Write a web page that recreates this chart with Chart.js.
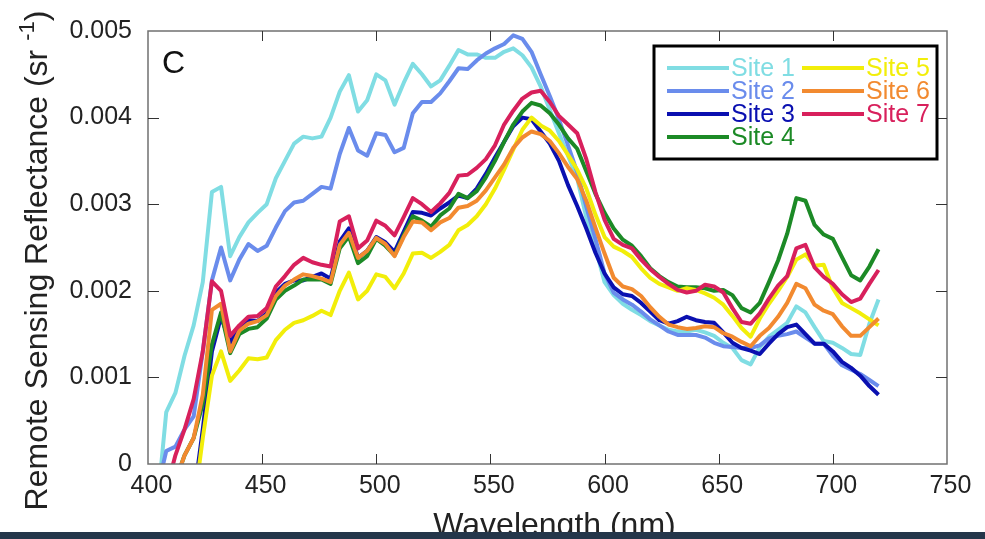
<!DOCTYPE html>
<html>
<head>
<meta charset="utf-8">
<script src="https://cdn.jsdelivr.net/npm/chart.js@4.4.0/dist/chart.umd.min.js"></script>
<style>
  html, body { margin: 0; padding: 0; background: #24364a; overflow: hidden; }
  #wrap { position: relative; width: 985px; height: 532px; background: #fff; }
</style>
</head>
<body>
<div id="wrap"><canvas id="rrs"></canvas></div>
<script>
// wavelength grid (nm) shared by every site
const wavelengths = [
  404, 408, 412, 416, 420, 424, 428, 432, 436, 440, 444, 448, 452, 456, 460, 464,
  468, 472, 476, 480, 484, 488, 492, 496, 500, 504, 508, 512, 516, 520, 524, 528,
  532, 536, 540, 544, 548, 552, 556, 560, 564, 568, 572, 576, 580, 584, 588, 592,
  596, 600, 604, 608, 612, 616, 620, 624, 628, 632, 636, 640, 644, 648, 652, 656,
  660, 664, 668, 672, 676, 680, 684, 688, 692, 696, 700, 704, 708, 712, 716, 720
];

const site1 = [
  -0.0005, 0.0006, 0.00082, 0.00125, 0.0016, 0.0021, 0.00314, 0.0032, 0.0024, 0.00262, 0.00279, 0.0029, 0.003, 0.0033, 0.0035, 0.0037,
  0.00378, 0.00376, 0.00378, 0.004, 0.0043, 0.00449, 0.00407, 0.0042, 0.0045, 0.00443, 0.00415, 0.0044, 0.00462, 0.0045, 0.00436, 0.00443,
  0.0046, 0.00478, 0.00473, 0.00473, 0.00469, 0.00469, 0.00476, 0.0048, 0.00472, 0.00458, 0.00436, 0.00409, 0.00382, 0.00356, 0.0033, 0.00285,
  0.0025, 0.0021, 0.00195, 0.00185, 0.00178, 0.00172, 0.00165, 0.0016, 0.00155, 0.00153, 0.00153, 0.00155, 0.00152, 0.00148, 0.0014, 0.00134,
  0.0012, 0.00115, 0.00135, 0.00147, 0.00155, 0.00163, 0.00182, 0.00175, 0.00158, 0.00142, 0.0014, 0.00134, 0.00127, 0.00126, 0.00162, 0.0019
];
const site2 = [
  -0.0003, 0.00015, 0.0002, 0.0004, 0.00055, 0.0013, 0.00212, 0.0025, 0.00212, 0.00236, 0.00254, 0.00246, 0.00252, 0.00273, 0.00292, 0.00302,
  0.00304, 0.00312, 0.0032, 0.00318, 0.00358, 0.00388, 0.00362, 0.00356, 0.00382, 0.0038, 0.0036, 0.00365, 0.00405, 0.00418, 0.00418, 0.00428,
  0.00442, 0.00457, 0.00456, 0.00466, 0.00474, 0.0048, 0.00485, 0.00495, 0.00491, 0.00476, 0.0045, 0.00425, 0.00398, 0.00368, 0.00337, 0.00297,
  0.0026, 0.0022, 0.00198, 0.0019, 0.00184, 0.00176, 0.00167, 0.0016, 0.00153, 0.00149, 0.00149, 0.00149, 0.00146, 0.0014, 0.00136, 0.00135,
  0.00134, 0.00134, 0.00137, 0.00145, 0.00148, 0.0015, 0.00153, 0.00146, 0.00139, 0.00139, 0.00125, 0.00114, 0.00109, 0.00104, 0.00097, 0.0009
];
const site3 = [
  null, null, null, null, -0.0004, 0.0004, 0.0013, 0.0017, 0.0014, 0.00158, 0.00166, 0.00165, 0.00174, 0.00198, 0.00208, 0.00212,
  0.00212, 0.00216, 0.0022, 0.00214, 0.00257, 0.00272, 0.00238, 0.00246, 0.00262, 0.00256, 0.00245, 0.00268, 0.00291, 0.0029, 0.00287, 0.00295,
  0.00302, 0.0031, 0.00307, 0.00318, 0.00335, 0.00354, 0.00372, 0.0039, 0.004, 0.00398, 0.00384, 0.0037, 0.0035, 0.00322, 0.00298, 0.00272,
  0.00244, 0.0022, 0.00204, 0.00196, 0.00194, 0.00186, 0.00176, 0.00166, 0.00162, 0.00165, 0.0017, 0.00166, 0.00164, 0.00163, 0.00152, 0.0014,
  0.00134, 0.00131, 0.00127, 0.00139, 0.0015, 0.00158, 0.00161, 0.0015, 0.00139, 0.00139, 0.0013, 0.00118, 0.00111, 0.00102, 0.0009, 0.0008
];
const site4 = [
  null, null, -0.0002, 0.0001, 0.0003, 0.0007, 0.00138, 0.00175, 0.00128, 0.0015, 0.00156, 0.00158, 0.00168, 0.0019, 0.002, 0.00206,
  0.00213, 0.00213, 0.00213, 0.00208, 0.00249, 0.00263, 0.00232, 0.0024, 0.0026, 0.00252, 0.00241, 0.00264, 0.00286, 0.00281, 0.00274, 0.00287,
  0.00295, 0.00312, 0.00307, 0.00315, 0.00331, 0.0035, 0.00372, 0.00392, 0.00407, 0.00417, 0.00414, 0.00405, 0.00392, 0.00376, 0.00364, 0.00338,
  0.00312, 0.0029, 0.00272, 0.00259, 0.00252, 0.0024, 0.00226, 0.00217, 0.0021, 0.00205, 0.00204, 0.00204, 0.00203, 0.002, 0.00201, 0.00195,
  0.0018, 0.00175, 0.00186, 0.0021, 0.00235, 0.00266, 0.00307, 0.00304, 0.00276, 0.00265, 0.0026, 0.00239, 0.00218, 0.00212, 0.00228, 0.00248
];
const site5 = [
  null, null, null, null, -0.0005, 0.0003, 0.00102, 0.0013, 0.00096, 0.00108, 0.00122, 0.00121, 0.00123, 0.00143, 0.00155, 0.00163,
  0.00166, 0.00171, 0.00177, 0.00172, 0.002, 0.00221, 0.0019, 0.002, 0.00219, 0.00216, 0.00203, 0.0022, 0.00243, 0.00244, 0.00238, 0.00245,
  0.00253, 0.0027, 0.00276, 0.00286, 0.003, 0.00318, 0.0034, 0.00363, 0.00386, 0.004, 0.00391, 0.00385, 0.00373, 0.00357, 0.0034, 0.00318,
  0.00288, 0.00262, 0.00251, 0.00246, 0.00239, 0.00226, 0.00215, 0.00208, 0.00204, 0.002, 0.00203, 0.00201, 0.00197, 0.00192, 0.00184, 0.00171,
  0.00157, 0.00147, 0.00168, 0.00185, 0.002, 0.00216, 0.00236, 0.00242, 0.00229, 0.0023, 0.00203, 0.00186, 0.0018, 0.00174, 0.00167, 0.0016
];
const site6 = [
  null, null, -0.0002, 0.0001, 0.0003, 0.0008, 0.00178, 0.00185, 0.0013, 0.00154, 0.00162, 0.00165, 0.00172, 0.00194, 0.00206, 0.00213,
  0.00219, 0.00217, 0.00214, 0.0021, 0.00253, 0.00267, 0.00238, 0.00246, 0.00261, 0.00254, 0.0024, 0.00262, 0.0028, 0.00279, 0.0027, 0.00279,
  0.00284, 0.00296, 0.00298, 0.00304, 0.00316, 0.00331, 0.00346, 0.00365, 0.00377, 0.00384, 0.00381, 0.00373, 0.00359, 0.00343, 0.00329, 0.00304,
  0.00273, 0.00243, 0.00215, 0.00205, 0.00202, 0.00194, 0.00181, 0.0017, 0.00161, 0.00158, 0.00156, 0.00157, 0.00159, 0.00158, 0.00151, 0.00147,
  0.00141, 0.00136, 0.00148, 0.00157, 0.0017, 0.00186, 0.00208, 0.00203, 0.00184, 0.00177, 0.00173, 0.00159, 0.00148, 0.00148, 0.00158, 0.00168
];
const site7 = [
  null, -0.0003, 0.0001, 0.0004, 0.00075, 0.0013, 0.00211, 0.002, 0.00148, 0.0016, 0.0017, 0.00171, 0.0018, 0.00205, 0.00217, 0.0023,
  0.00238, 0.00233, 0.0023, 0.00228, 0.0028, 0.00286, 0.00249, 0.00258, 0.00281, 0.00275, 0.00264, 0.00285, 0.00307, 0.003, 0.00291, 0.00301,
  0.00313, 0.00333, 0.00334, 0.00342, 0.00352, 0.00368, 0.00392, 0.00408, 0.00422, 0.00429, 0.00431, 0.00418, 0.00402, 0.00392, 0.00382, 0.00352,
  0.00314, 0.00282, 0.0026, 0.00253, 0.00249, 0.00236, 0.00225, 0.00216, 0.00208, 0.00201, 0.00198, 0.002, 0.00207, 0.00205, 0.00198, 0.0018,
  0.00164, 0.00162, 0.00174, 0.00191, 0.00206, 0.00217, 0.00249, 0.00253, 0.00227, 0.00216, 0.00208, 0.00196, 0.00187, 0.00191, 0.00208, 0.00224
];

const siteNames = ["Site 1", "Site 2", "Site 3", "Site 4", "Site 5", "Site 6", "Site 7"];
const siteColors = ["#80dde3", "#6a8cec", "#0a10b0", "#1c8a26", "#f2ee0a", "#f28a30", "#d8205c"];
const siteValues = [site1, site2, site3, site4, site5, site6, site7];

const xTickValues = [400, 450, 500, 550, 600, 650, 700, 750];
const yTickValues = [0, 0.001, 0.002, 0.003, 0.004, 0.005];

const FONT = "'Liberation Sans', Arial, sans-serif";

// box round the plot with matlab-style inward ticks
const boxTicks = {
  id: "boxTicks",
  afterDatasetsDraw(chart) {
    const { ctx, chartArea: a, scales: { x, y } } = chart;
    ctx.save();
    ctx.strokeStyle = "#707070";
    ctx.lineWidth = 1.5;
    ctx.strokeRect(a.left, a.top, a.width, a.height);
    ctx.strokeStyle = "#333";
    ctx.lineWidth = 1;
    ctx.beginPath();
    xTickValues.slice(1, -1).forEach((v) => {
      const px = Math.round(x.getPixelForValue(v)) + 0.5;
      ctx.moveTo(px, a.bottom); ctx.lineTo(px, a.bottom - 10);
      ctx.moveTo(px, a.top); ctx.lineTo(px, a.top + 10);
    });
    yTickValues.slice(1, -1).forEach((v) => {
      const py = Math.round(y.getPixelForValue(v)) + 0.5;
      ctx.moveTo(a.left, py); ctx.lineTo(a.left + 11, py);
      ctx.moveTo(a.right, py); ctx.lineTo(a.right - 11, py);
    });
    ctx.stroke();
    ctx.restore();
  },
};

// panel letter, axis titles and the boxed two-column legend
const annotations = {
  id: "annotations",
  afterDraw(chart) {
    const { ctx, chartArea: a } = chart;
    ctx.save();
    ctx.fillStyle = "#111";
    ctx.font = "32px " + FONT;
    ctx.textAlign = "left";
    ctx.textBaseline = "alphabetic";
    ctx.fillText("C", a.left + 14, a.top + 42);

    ctx.fillStyle = "#222";
    ctx.textAlign = "center";
    ctx.textBaseline = "middle";
    ctx.fillText("Wavelength (nm)", (a.left + a.right) / 2 + 7, a.bottom + 62);

    // y title with raised -1
    const main = "Remote Sensing Reflectance (sr ";
    const sup = "-1";
    const close = ")";
    ctx.font = "32px " + FONT;
    const wMain = ctx.measureText(main).width;
    const wClose = ctx.measureText(close).width;
    ctx.font = "22px " + FONT;
    const wSup = ctx.measureText(sup).width;
    const total = wMain + wSup + wClose;
    ctx.translate(38, (a.top + a.bottom) / 2 + 13);
    ctx.rotate(-Math.PI / 2);
    ctx.textAlign = "left";
    let cx = -total / 2;
    ctx.font = "32px " + FONT;
    ctx.fillText(main, cx, 0);
    cx += wMain;
    ctx.font = "22px " + FONT;
    ctx.fillText(sup, cx, -10);
    cx += wSup;
    ctx.font = "32px " + FONT;
    ctx.fillText(close, cx, 0);
    ctx.setTransform(1, 0, 0, 1, 0, 0);

    // legend
    const bx = a.left + 506, by = a.top + 15, bw = 283, bh = 113;
    ctx.fillStyle = "#fff";
    ctx.fillRect(bx, by, bw, bh);
    ctx.strokeStyle = "#000";
    ctx.lineWidth = 3;
    ctx.strokeRect(bx, by, bw, bh);
    ctx.font = "25px " + FONT;
    ctx.textBaseline = "middle";
    chart.data.datasets.forEach((ds, i) => {
      const col = i < 4 ? 0 : 1;
      const row = i < 4 ? i : i - 4;
      const lx = bx + 13 + col * 135;
      const ly = by + 22 + row * 23;
      ctx.strokeStyle = ds.borderColor;
      ctx.lineWidth = 4;
      ctx.beginPath();
      ctx.moveTo(lx, ly);
      ctx.lineTo(lx + 62, ly);
      ctx.stroke();
      ctx.fillStyle = ds.borderColor;
      ctx.fillText(ds.label, lx + 64, ly + 1);
    });
    ctx.restore();
  },
};

new Chart(document.getElementById("rrs"), {
  type: "line",
  data: {
    datasets: siteNames.map((name, i) => ({
      label: name,
      data: wavelengths.map((w, j) => ({ x: w, y: siteValues[i][j] })),
      borderColor: siteColors[i],
      backgroundColor: siteColors[i],
      borderWidth: 4,
      pointRadius: 0,
      tension: 0,
      fill: false,
      clip: 0,
      borderJoinStyle: "round",
      order: siteNames.length - i,
    })),
  },
  options: {
    responsive: true,
    maintainAspectRatio: false,
    animation: false,
    events: [],
    layout: { padding: { top: 25, right: 38, left: 0, bottom: 0 } },
    plugins: {
      legend: { display: false },
      tooltip: { enabled: false },
    },
    scales: {
      x: {
        type: "linear",
        min: 400,
        max: 750,
        afterFit(s) { s.height = 68; },
        afterBuildTicks(s) { s.ticks = xTickValues.map((v) => ({ value: v })); },
        grid: { display: false, drawTicks: false },
        border: { display: false },
        ticks: {
          autoSkip: false,
          maxRotation: 0,
          padding: 7,
          color: "#222",
          font: { family: FONT, size: 25 },
          callback: (v) => " " + v,
        },
      },
      y: {
        min: 0,
        max: 0.005,
        afterFit(s) { s.width = 148; },
        afterBuildTicks(s) { s.ticks = yTickValues.map((v) => ({ value: v })); },
        grid: { display: false, drawTicks: false },
        border: { display: false },
        ticks: {
          padding: 16,
          color: "#222",
          font: { family: FONT, size: 25 },
          callback: (v) => (v === 0 ? "0" : v.toFixed(3)),
        },
      },
    },
  },
  plugins: [boxTicks, annotations],
});
</script>
</body>
</html>
